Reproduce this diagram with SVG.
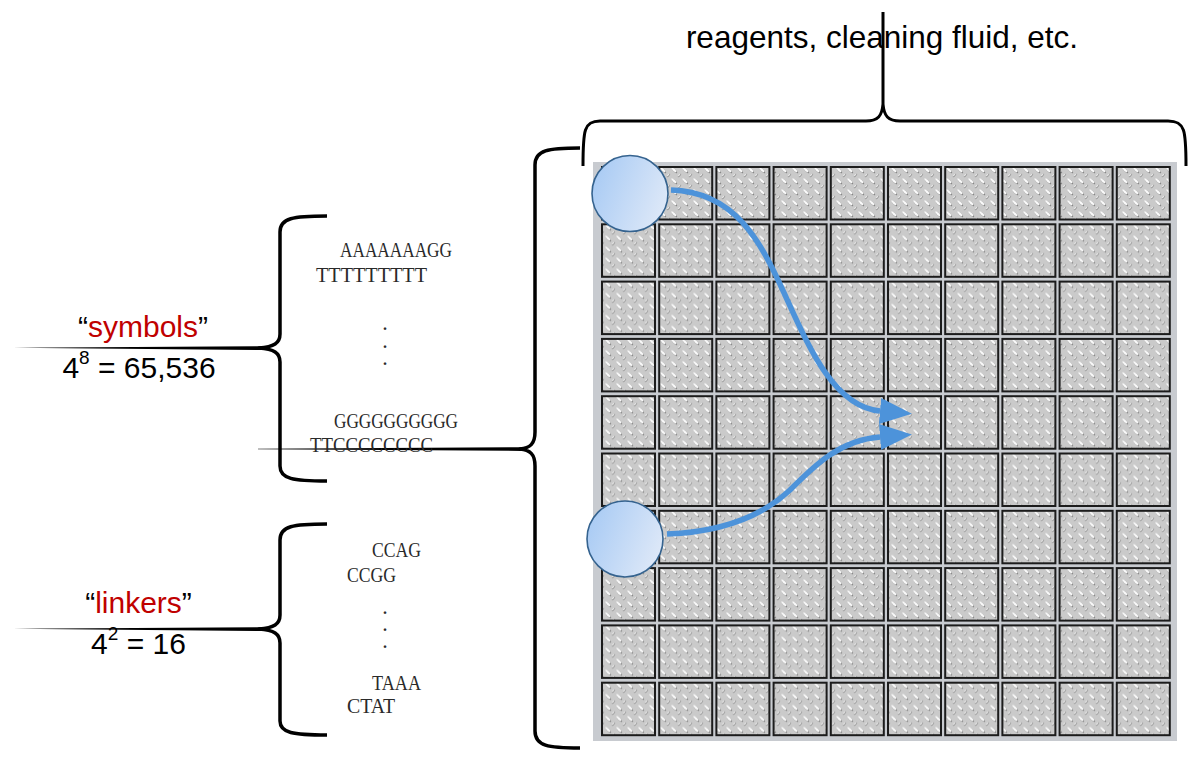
<svg xmlns="http://www.w3.org/2000/svg" xmlns:xlink="http://www.w3.org/1999/xlink" width="1200" height="766" viewBox="0 0 1200 766">
<style>
.brace{fill:none;stroke:#000;stroke-width:3.5;stroke-linejoin:round;stroke-linecap:butt}
.lbl{font-family:"Liberation Sans",Arial,sans-serif;font-size:30px;fill:#000}
.red{fill:#c00000}
.seq{font-family:"Liberation Serif","Times New Roman",serif;font-size:20px;fill:#2a2a2a}
.dots{font-family:"Liberation Serif","Times New Roman",serif;font-size:16px;font-weight:bold;fill:#2a2a2a}
.cell{fill:url(#plate);stroke:#1c1c1c;stroke-width:2}
.node{fill:url(#blue);stroke:#35638f;stroke-width:1.6}
.arrow{fill:none;stroke:#4d93da;stroke-width:5.5;marker-end:url(#ah)}
</style>
<defs>
<pattern id="plate" width="11" height="11" patternUnits="userSpaceOnUse">
<rect width="11" height="11" fill="#cacaca"/>
<ellipse cx="3.5" cy="3.5" rx="3.5" ry="1.2" transform="rotate(45 3.5 3.5)" fill="#767676"/>
<ellipse cx="2.9" cy="2.9" rx="3.4" ry="1.1" transform="rotate(45 2.9 2.9)" fill="#fbfbfb"/>
<ellipse cx="8.5" cy="8.5" rx="2.3" ry="0.8" transform="rotate(-45 8.5 8.5)" fill="#8a8a8a"/>
<ellipse cx="8.1" cy="8.1" rx="1.8" ry="0.6" transform="rotate(-45 8.1 8.1)" fill="#ececec"/>
</pattern>
<linearGradient id="blue" x1="0" y1="0.3" x2="1" y2="0.7">
<stop offset="0" stop-color="#a9cbf4"/>
<stop offset="1" stop-color="#dfe9f8"/>
</linearGradient>
<marker id="ah" markerWidth="34" markerHeight="28" refX="0" refY="13" orient="auto" markerUnits="userSpaceOnUse">
<path d="M0,0 L32,13 L0,26 Z" fill="#4d93da"/>
</marker>
<g id="row">
<rect class="cell" x="602" y="0" width="53" height="52.5"/>
<rect class="cell" x="659.2" y="0" width="53" height="52.5"/>
<rect class="cell" x="716.4" y="0" width="53" height="52.5"/>
<rect class="cell" x="773.6" y="0" width="53" height="52.5"/>
<rect class="cell" x="830.8" y="0" width="53" height="52.5"/>
<rect class="cell" x="888" y="0" width="53" height="52.5"/>
<rect class="cell" x="945.2" y="0" width="53" height="52.5"/>
<rect class="cell" x="1002.4" y="0" width="53" height="52.5"/>
<rect class="cell" x="1059.6" y="0" width="53" height="52.5"/>
<rect class="cell" x="1116.8" y="0" width="53" height="52.5"/>
</g>
</defs>
<rect width="1200" height="766" fill="#fff"/>

<g id="top-label">
<text class="lbl" x="882" y="48" text-anchor="middle" style="font-size:31.5px">reagents, cleaning fluid, etc.</text>
<path class="brace" style="stroke-width:3" d="M583,166 C583,130 584,121 600,121 L866,121 C878,121 882,116 883,104 L883,12 M883,104 C884,116 888,121 900,121 L1168,121 C1185,121 1186,130 1186,166"/>
</g>

<g id="plate-grid">
<rect x="593" y="162" width="584" height="579" fill="#c8cbd0"/>
<use xlink:href="#row" y="167"/>
<use xlink:href="#row" y="224.3"/>
<use xlink:href="#row" y="281.6"/>
<use xlink:href="#row" y="338.9"/>
<use xlink:href="#row" y="396.2"/>
<use xlink:href="#row" y="453.5"/>
<use xlink:href="#row" y="510.8"/>
<use xlink:href="#row" y="568.1"/>
<use xlink:href="#row" y="625.4"/>
<use xlink:href="#row" y="682.7"/>
</g>

<g id="big-brace">
<path class="brace" d="M580,148 C548,148 535,150 535,165 L535,432 C535,444 530,448 520,449 C530,450 535,454 535,466 L535,731 C535,746 548,748 580,748"/>
<path d="M258,448.7 L522,447.3 L522,450.9 L258,449.3 Z" fill="#000"/>
</g>

<g id="symbols">
<text class="lbl" x="143" y="337" text-anchor="middle">“<tspan class="red">symbols</tspan>”</text>
<text class="lbl" x="139" y="378" text-anchor="middle">4<tspan dy="-14" style="font-size:19px">8</tspan><tspan dy="14"> = 65,536</tspan></text>
<path class="brace" d="M327,216 C293,216 280,218 280,232 L280,334 C280,343 274,347 259,348 C274,349 280,353 280,362 L280,466 C280,479 293,481 327,481"/>
<path d="M13,347.8 L262,346.3 L262,350 Z" fill="#000"/>
<text class="seq" x="340" y="257" textLength="112" lengthAdjust="spacingAndGlyphs">AAAAAAAGG</text>
<text class="seq" x="316" y="282" textLength="111" lengthAdjust="spacingAndGlyphs">TTTTTTTTT</text>
<text class="dots" x="385" y="330" text-anchor="middle">.<tspan x="385" dy="17.5">.</tspan><tspan x="385" dy="17.5">.</tspan></text>
<text class="seq" x="334" y="428" textLength="124" lengthAdjust="spacingAndGlyphs">GGGGGGGGGG</text>
<text class="seq" x="310" y="452" textLength="123" lengthAdjust="spacingAndGlyphs">TTCCCCCCCC</text>
</g>

<g id="linkers">
<text class="lbl" x="138.5" y="613" text-anchor="middle">“<tspan class="red">linkers</tspan>”</text>
<text class="lbl" x="138.5" y="654" text-anchor="middle">4<tspan dy="-14" style="font-size:19px">2</tspan><tspan dy="14"> = 16</tspan></text>
<path class="brace" d="M327,524 C293,524 280,526 280,540 L280,615 C280,624 274,628 259,629 C274,630 280,634 280,643 L280,721 C280,733 293,735 327,735"/>
<path d="M13,628.8 L262,627.3 L262,631 Z" fill="#000"/>
<text class="seq" x="372" y="557" textLength="49" lengthAdjust="spacingAndGlyphs">CCAG</text>
<text class="seq" x="347" y="582" textLength="49" lengthAdjust="spacingAndGlyphs">CCGG</text>
<text class="dots" x="385" y="614" text-anchor="middle">.<tspan x="385" dy="17">.</tspan><tspan x="385" dy="17">.</tspan></text>
<text class="seq" x="372" y="690" textLength="49" lengthAdjust="spacingAndGlyphs">TAAA</text>
<text class="seq" x="347" y="713" textLength="48" lengthAdjust="spacingAndGlyphs">CTAT</text>
</g>

<g id="connectors">
<path class="arrow" d="M671,190 C735,192 760,240 785,295 C810,350 835,407 880,411"/>
<path class="arrow" d="M667,534 C720,532 760,518 790,490 C815,465 840,440 880,437"/>
</g>

<g id="source-top"><circle class="node" cx="630" cy="193.5" r="38"/></g>
<g id="source-bottom"><circle class="node" cx="625" cy="539" r="38"/></g>
</svg>
